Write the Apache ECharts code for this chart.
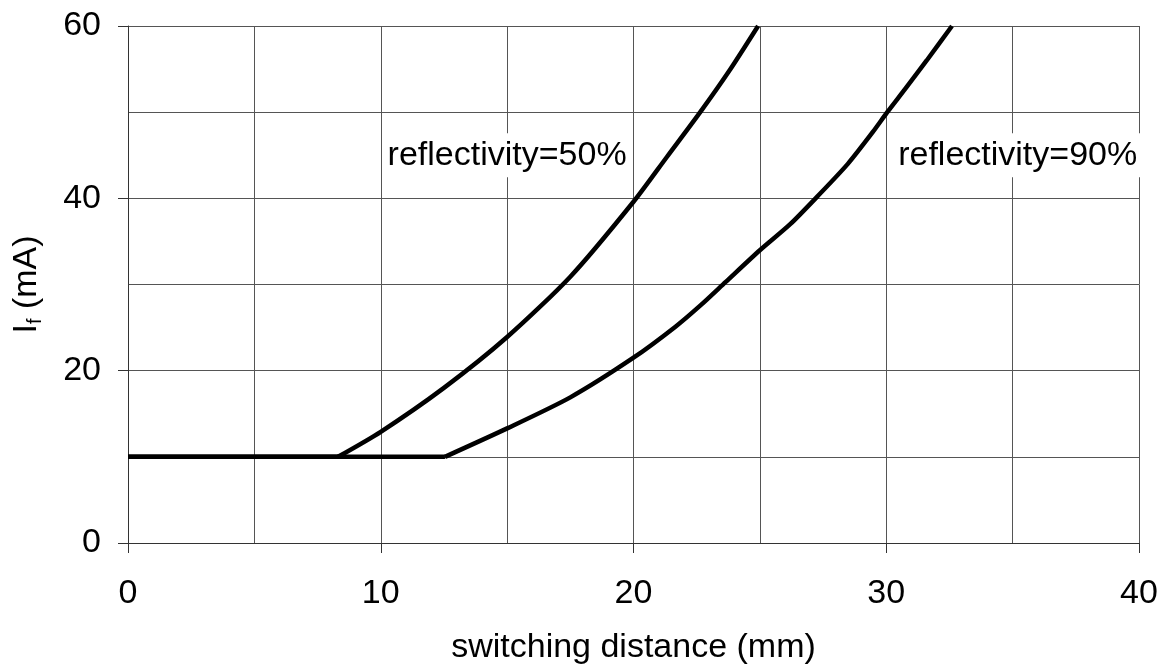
<!DOCTYPE html>
<html>
<head>
<meta charset="utf-8">
<script src="https://cdn.jsdelivr.net/npm/echarts@6/dist/echarts.min.js"></script>
<style>
  html, body { margin: 0; padding: 0; background: #fff; }
  #chart { width: 1163px; height: 668px; }
</style>
</head>
<body>
<div id="chart"></div>
<script>
// Data
var xTicks = [0, 10, 20, 30, 40];
var yTicks = [0, 20, 40, 60];

var flat50 = [[0, 10], [8.31, 10]];
var curve50 = [[8.31, 10], [10, 12.9], [12.5, 18.0], [15, 23.9], [17.5, 30.9], [20, 39.6], [21.32, 44.8], [22.64, 50.0], [23.79, 54.8], [24.93, 60]];

var flat90 = [[0, 10], [12.54, 10]];
var curve90 = [[12.54, 10], [15, 13.3], [17.5, 16.9], [20, 21.5], [21.66, 25.1], [22.66, 27.6], [23.65, 30.3], [25.01, 34.0], [26.2, 37.0], [27.27, 40.2], [28.48, 44.0], [29.47, 47.7], [30.04, 50.0], [30.75, 52.7], [31.6, 56.0], [32.6, 60]];

var labelTexts = ['reflectivity=50%', 'reflectivity=90%'];
var labelX = [15, 35.2];
var labelY = [45, 45];

var FONT = 'Liberation Sans, Arial, sans-serif';
var chart = echarts.init(document.getElementById('chart'), null, { renderer: 'canvas' });

function lineSeries(data, smooth) {
  return {
    type: 'line',
    data: data,
    showSymbol: false,
    smooth: smooth ? 0.25 : false,
    lineStyle: { color: '#000', width: 4.5 },
    z: 5,
    animation: false
  };
}

var series = [
  lineSeries(flat50, false),
  lineSeries(curve50, true),
  lineSeries(flat90, false),
  lineSeries(curve90, true),
  {
    type: 'scatter',
    data: labelTexts.map(function (t, i) { return { name: t, value: [labelX[i], labelY[i]] }; }),
    symbolSize: 0,
    itemStyle: { opacity: 1 },
    z: 10,
    animation: false,
    label: {
      show: true,
      position: 'inside',
      formatter: '{b}',
      fontFamily: FONT,
      fontSize: 34,
      color: '#000',
      opacity: 1,
      backgroundColor: '#fff',
      padding: [5, 4, 5, 4]
    }
  }
];

chart.setOption({
  animation: false,
  backgroundColor: '#fff',
  grid: { left: 128, right: 24, top: 26, bottom: 125, outerBoundsMode: 'none', containLabel: false },
  xAxis: {
    type: 'value',
    min: xTicks[0],
    max: xTicks[xTicks.length - 1],
    interval: 10,
    name: 'switching distance (mm)',
    nameLocation: 'middle',
    nameGap: 88,
    nameTextStyle: { fontFamily: FONT, fontSize: 34, color: '#000', verticalAlign: 'top' },
    axisLine: { show: true, onZero: false, lineStyle: { color: '#333', width: 1 } },
    axisTick: { show: true, length: 10, lineStyle: { color: '#333', width: 1 } },
    axisLabel: { margin: 34, fontFamily: FONT, fontSize: 34, color: '#000', verticalAlign: 'top' },
    splitLine: { show: true, lineStyle: { color: '#555', width: 1 } },
    minorTick: { show: false, splitNumber: 2 },
    minorSplitLine: { show: true, lineStyle: { color: '#555', width: 1 } }
  },
  yAxis: {
    type: 'value',
    min: yTicks[0],
    max: yTicks[yTicks.length - 1],
    interval: 20,
    name: '{a|I}{b|f}{a| (mA)}',
    nameLocation: 'middle',
    nameGap: 83,
    nameRotate: 90,
    nameTextStyle: {
      fontFamily: FONT, fontSize: 34, color: '#000',
      rich: {
        a: { fontFamily: FONT, fontSize: 34, color: '#000' },
        b: { fontFamily: FONT, fontSize: 20, color: '#000', padding: [16, 0, 0, 0] }
      }
    },
    axisLine: { show: true, onZero: false, lineStyle: { color: '#333', width: 1 } },
    axisTick: { show: true, length: 10, lineStyle: { color: '#333', width: 1 } },
    axisLabel: { margin: 27, fontFamily: FONT, fontSize: 34, color: '#000' },
    splitLine: { show: true, lineStyle: { color: '#555', width: 1 } },
    minorTick: { show: false, splitNumber: 2 },
    minorSplitLine: { show: true, lineStyle: { color: '#555', width: 1 } }
  },
  series: series
});
</script>
</body>
</html>
